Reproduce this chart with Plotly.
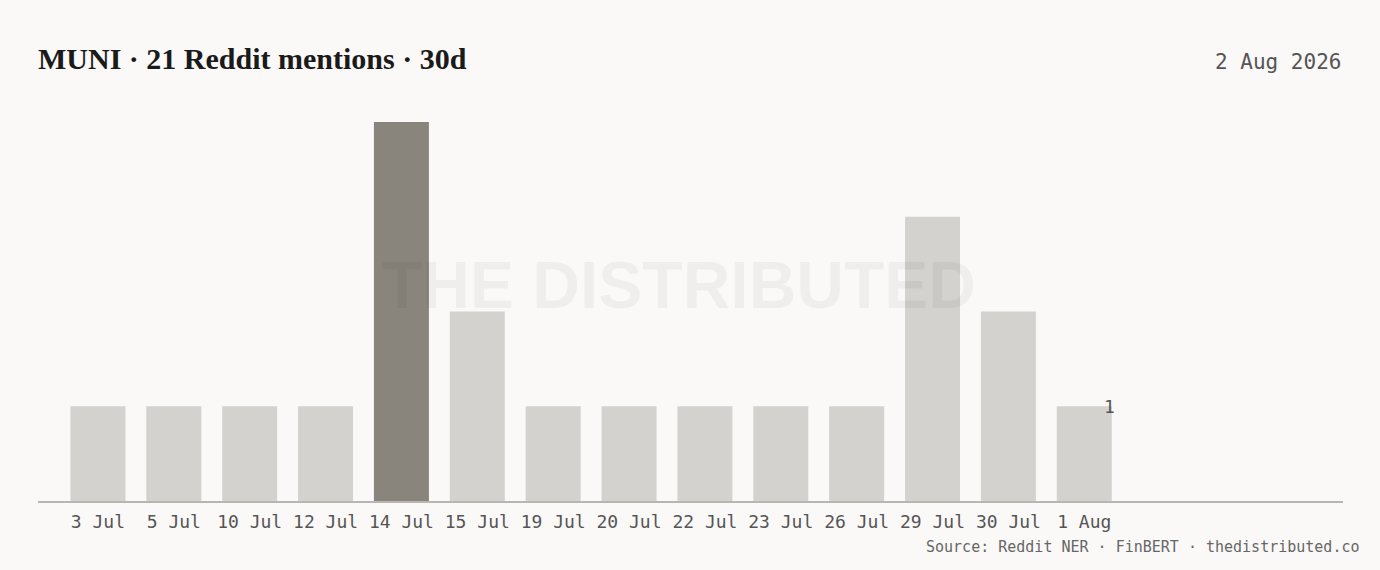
import plotly.graph_objects as go

categories = ["3 Jul", "5 Jul", "10 Jul", "12 Jul", "14 Jul", "15 Jul", "19 Jul",
              "20 Jul", "22 Jul", "23 Jul", "26 Jul", "29 Jul", "30 Jul", "1 Aug"]
mentions = [1, 1, 1, 1, 4, 2, 1, 1, 1, 1, 1, 3, 2, 1]

title_text = "MUNI · 21 Reddit mentions · 30d"
date_text = "2 Aug 2026"
source_text = "Source: Reddit NER · FinBERT · thedistributed.co"
watermark_text = "THE DISTRIBUTED"

BG = "#faf9f7"
LIGHT = "#d3d2ce"
DARK = "#8a857c"
MONO = "DejaVu Sans Mono"

peak = max(mentions)
colors = [DARK if v == peak else LIGHT for v in mentions]

fig = go.Figure(go.Bar(
    x=categories, y=mentions, marker=dict(color=colors, line=dict(width=0)),
    hoverinfo="x+y",
))

fig.update_layout(
    width=1380, height=570,
    paper_bgcolor=BG, plot_bgcolor=BG,
    margin=dict(l=38, r=37, t=122, b=69),
    bargap=0.275,
    showlegend=False,
    title=dict(text=title_text, x=38/1380, xref="container", xanchor="left",
               y=1-58/570, yref="container", yanchor="middle",
               font=dict(family="Liberation Serif", size=30, color="#1a1a1a", weight="bold")),
    xaxis=dict(type="category", range=[-0.79, 16.41], showgrid=False, zeroline=False,
               showline=True, linecolor="#b8b6b1", linewidth=1.5,
               ticks="outside", ticklen=4, tickcolor="rgba(0,0,0,0)",
               tickfont=dict(family=MONO, size=18, color="#555555")),
    yaxis=dict(range=[0, 4], showgrid=False, zeroline=False, showticklabels=False,
               showline=False),
    annotations=[
        dict(text=date_text, xref="paper", yref="paper", x=1, y=(501-62)/379,
             xanchor="right", yanchor="middle", showarrow=False,
             font=dict(family=MONO, size=21, color="#555555")),
        dict(text=watermark_text, xref="paper", yref="paper", x=0.491, y=0.57,
             xanchor="center", yanchor="middle", showarrow=False,
             font=dict(family="Liberation Sans", size=66, color="rgba(0,0,0,0.045)", weight="bold")),
        dict(text=str(mentions[-1]), x=len(categories)-1, y=mentions[-1], xref="x", yref="y",
             xshift=25, xanchor="center", yanchor="middle", showarrow=False,
             font=dict(family=MONO, size=18, color="#555555")),
        dict(text=source_text, xref="paper", yref="paper", x=1.014, y=(501-547)/379,
             xanchor="right", yanchor="middle", showarrow=False,
             font=dict(family=MONO, size=15, color="#666666")),
    ],
)

fig.write_html("out.html", config={"displayModeBar": False},
               post_script="document.body.style.margin='0';")
